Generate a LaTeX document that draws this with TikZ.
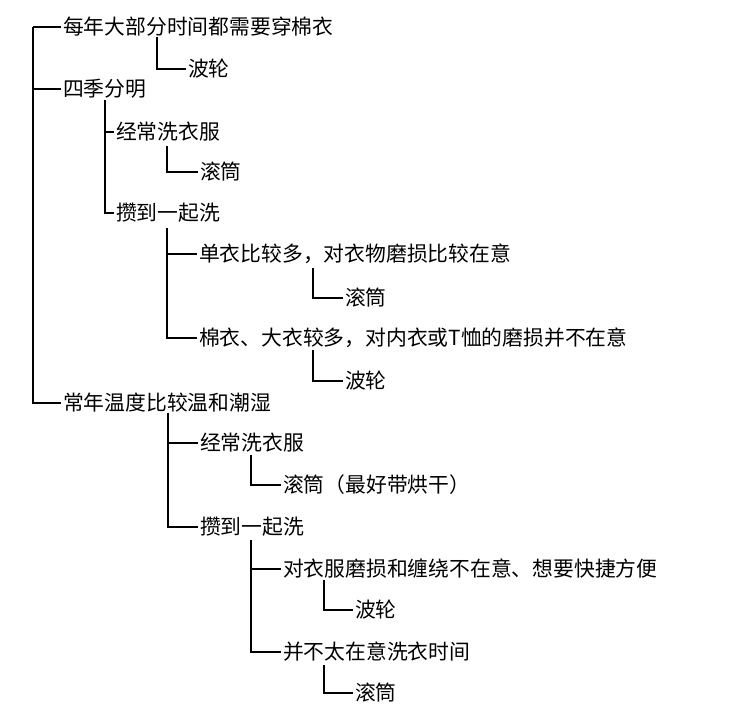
\documentclass[tikz,border=0pt]{standalone}
\usepackage{fontspec}
\newfontfamily\cjk{Noto Sans CJK SC}
\begin{document}
\begin{tikzpicture}[x=1pt, y=-1pt, line width=1.3pt,
  item/.style={anchor=west, inner xsep=2pt, inner ysep=0pt, outer sep=0pt,
    font=\cjk\fontsize{20.8}{25}\selectfont}]
  \useasboundingbox (0,0) rectangle (730,715);
  \foreach \n/\x/\y/\s in {n1/61/27/每年大部分时间都需要穿棉衣, n2/186/69/波轮,
      n3/61/89/四季分明, n4/114/132/经常洗衣服, n5/198/172/滚筒,
      n6/114/213/攒到一起洗, n7/197/254/单衣比较多，对衣物磨损比较在意,
      n8/343/298/滚筒, n9/197/338/棉衣、大衣较多，对内衣或T恤的磨损并不在意,
      n10/343/381/波轮, n11/61/403/常年温度比较温和潮湿,
      n12/198/443/经常洗衣服, n13/281/485/滚筒（最好带烘干）,
      n14/198/527/攒到一起洗, n15/281/569/对衣服磨损和缠绕不在意、想要快捷方便,
      n16/353/610/波轮, n17/281/652/并不太在意洗衣时间, n18/353/693/滚筒}{%
    \node (\n)[item] at (\x,\y) {\s};
  }
  % tops of the vertical lines
  \foreach \v/\x/\y in {t0/33/27, t1/157/37, t3/105/100, t4/167/146, t6/167/228,
      t7/313/268, t9/313/350, t11/168/413, t12/251/455, t14/251/540,
      t15/324/580, t17/324/665}{%
    \coordinate (\v) at (\x,\y);
  }
  \foreach \v/\c in {t0/n1, t0/n3, t0/n11, t1/n2, t3/n4, t3/n6, t4/n5,
      t6/n7, t6/n9, t7/n8, t9/n10, t11/n12, t11/n14, t12/n13,
      t14/n15, t14/n17, t15/n16, t17/n18}{%
    \draw (\v) |- (\c.west);
  }
\end{tikzpicture}
\end{document}
